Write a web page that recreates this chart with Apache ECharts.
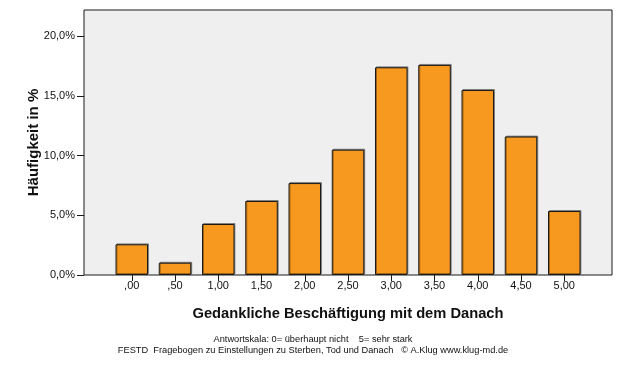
<!DOCTYPE html>
<html>
<head>
<meta charset="utf-8">
<script src="https://cdn.jsdelivr.net/npm/echarts@6/dist/echarts.min.js"></script>
<style>
html,body{margin:0;padding:0;background:#fff;}
#c{width:626px;height:366px;}
</style>
</head>
<body>
<div id="c"></div>
<script>
const categories = [',00', ',50', '1,00', '1,50', '2,00', '2,50', '3,00', '3,50', '4,00', '4,50', '5,00'];
const values = [2.57, 1.03, 4.27, 6.2, 7.7, 10.5, 17.4, 17.6, 15.5, 11.6, 5.36];
const yTicks = [0, 5, 10, 15, 20];
const yTitle = 'Häufigkeit in %';
const xTitle = 'Gedankliche Beschäftigung mit dem Danach';
const footer1 = 'Antwortskala: 0= überhaupt nicht    5= sehr stark';
const footer2 = 'FESTD  Fragebogen zu Einstellungen zu Sterben, Tod und Danach   © A.Klug www.klug-md.de';

const FONT = '"Liberation Sans", Arial, sans-serif';
const chart = echarts.init(document.getElementById('c'), null, {renderer: 'canvas'});
const plotLeft = 84, plotTop = 10, plotW = 528, plotH = 265;
const band = 43.25;
const dataW = band * categories.length;
const dataLeft = plotLeft + (plotW - dataW) / 2;

chart.setOption({
  animation: false,
  backgroundColor: '#ffffff',
  grid: [
    {left: plotLeft, top: plotTop, width: plotW, height: plotH, show: true,
     backgroundColor: '#efefef', borderColor: '#1a1a1a', borderWidth: 1, z: 0},
    {left: dataLeft, top: plotTop, width: dataW, height: plotH, show: false}
  ],
  xAxis: [
    {gridIndex: 0, type: 'value', show: false, min: 0, max: 1},
    {gridIndex: 1, type: 'category', data: categories,
     axisLine: {show: false},
     axisTick: {show: true, alignWithLabel: true, length: 6, lineStyle: {color: '#1a1a1a', width: 1}},
     axisLabel: {color: '#111', fontFamily: FONT, fontSize: 11, margin: 5},
     name: xTitle, nameLocation: 'middle', nameGap: 31,
     nameTextStyle: {fontFamily: FONT, fontSize: 14.7, fontWeight: 'bold', color: '#111'}}
  ],
  yAxis: [
    {gridIndex: 0, type: 'value', show: false, min: 0, max: 1},
    {gridIndex: 1, type: 'value', min: 0, max: 22.2, offset: dataLeft - plotLeft,
     axisLine: {show: false},
     splitLine: {show: false},
     axisTick: {show: true, length: 7, customValues: yTicks, lineStyle: {color: '#1a1a1a', width: 1}},
     axisLabel: {color: '#111', fontFamily: FONT, fontSize: 11, margin: 9, customValues: yTicks,
       formatter: v => v.toFixed(1).replace('.', ',') + '%'},
     name: yTitle, nameLocation: 'middle', nameGap: 43, nameRotate: 90, nameMoveOverlap: false,
     nameTextStyle: {fontFamily: FONT, fontSize: 15, fontWeight: 'bold', color: '#111'}}
  ],
  series: [{
    type: 'bar', xAxisIndex: 1, yAxisIndex: 1, data: values, barWidth: 32.5,
    itemStyle: {color: '#f7991f', borderColor: '#1a1a1a', borderWidth: 1,
      shadowColor: 'rgba(0,0,0,0.35)', shadowOffsetX: 1, shadowOffsetY: -1, shadowBlur: 0}
  }],
  graphic: [
    {type: 'text', left: 'center', top: 335, style: {text: footer1, font: '9.25px ' + FONT, fill: '#111', textAlign: 'center'}},
    {type: 'text', left: 'center', top: 346, style: {text: footer2, font: '9.25px ' + FONT, fill: '#111', textAlign: 'center'}}
  ]
});
</script>
</body>
</html>
